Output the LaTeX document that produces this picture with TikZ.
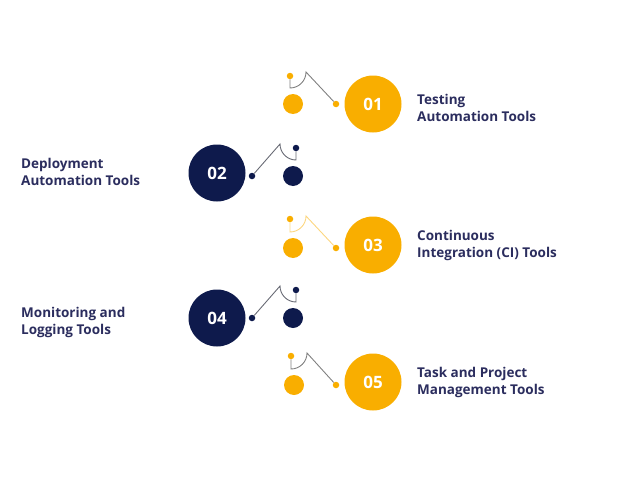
\documentclass[tikz,border=0pt]{standalone}
\usepackage{fontspec}
\setmainfont{Open Sans}
\definecolor{org}{HTML}{F9AE00}
\definecolor{nav}{HTML}{0E1A4C}
\definecolor{txt}{HTML}{2B2D5E}
\begin{document}
\begin{tikzpicture}[x=1pt,y=-1pt,
  big/.style={circle,minimum size=57pt,inner sep=0pt,text=white,font=\bfseries\fontsize{17}{17}\selectfont},
  med/.style={circle,minimum size=20pt,inner sep=0pt},
  dot/.style={circle,minimum size=6.5pt,inner sep=0pt},
  lbl/.style={text=txt,font=\bfseries\fontsize{13.5}{17}\selectfont,align=left,anchor=west,inner sep=0pt},
  ln/.style={line width=0.9pt}]
\useasboundingbox (0,0) rectangle (618,487);
% row 1
\node[big,fill=org] (b1) at (373,104) {01};
\node[med,fill=org] (m1) at (293,104) {};
\node[dot,fill=org] (d1) at (336,104) {};
\node[dot,fill=org] (t1) at (290,76) {};
\draw[ln,gray] (t1) -- (290,88) arc[start angle=90,end angle=0,radius=16] coordinate (c1) -- (d1);
\node[lbl] (l1) at (417,108) {Testing\\Automation Tools};
% row 2
\node[big,fill=nav] (b2) at (217,173) {02};
\node[med,fill=nav] (m2) at (293,176) {};
\node[dot,fill=nav] (d2) at (252,176) {};
\node[dot,fill=nav] (t2) at (296,148) {};
\draw[ln,gray!80!nav] (t2) -- (296,160) arc[start angle=90,end angle=180,radius=16] -- (d2);
\node[lbl] (l2) at (21,172) {Deployment\\Automation Tools};
% row 3
\node[big,fill=org] (b3) at (373,245) {03};
\node[med,fill=org] (m3) at (293,248) {};
\node[dot,fill=org] (d3) at (336,248) {};
\node[dot,fill=org] (t3) at (290,219) {};
\draw[ln,org!50] (t3) -- (290,232) arc[start angle=90,end angle=0,radius=16] -- (d3);
\node[lbl] (l3) at (417,245) {Continuous\\Integration (CI) Tools};
% row 4
\node[big,fill=nav] (b4) at (217,318) {04};
\node[med,fill=nav] (m4) at (293,318) {};
\node[dot,fill=nav] (d4) at (252,318) {};
\node[dot,fill=nav] (t4) at (296,290) {};
\draw[ln,gray!80!nav] (t4) -- (296,302) arc[start angle=90,end angle=180,radius=16] -- (d4);
\node[lbl] (l4) at (21,322) {Monitoring and\\Logging Tools};
% row 5
\node[big,fill=org] (b5) at (373,382) {05};
\node[med,fill=org] (m5) at (294,385) {};
\node[dot,fill=org] (d5) at (336,385) {};
\node[dot,fill=org] (t5) at (291,356) {};
\draw[ln,gray] (t5) -- (291,369) arc[start angle=90,end angle=0,radius=16] -- (d5);
\node[lbl] (l5) at (417,382) {Task and Project\\Management Tools};
\end{tikzpicture}
\end{document}
